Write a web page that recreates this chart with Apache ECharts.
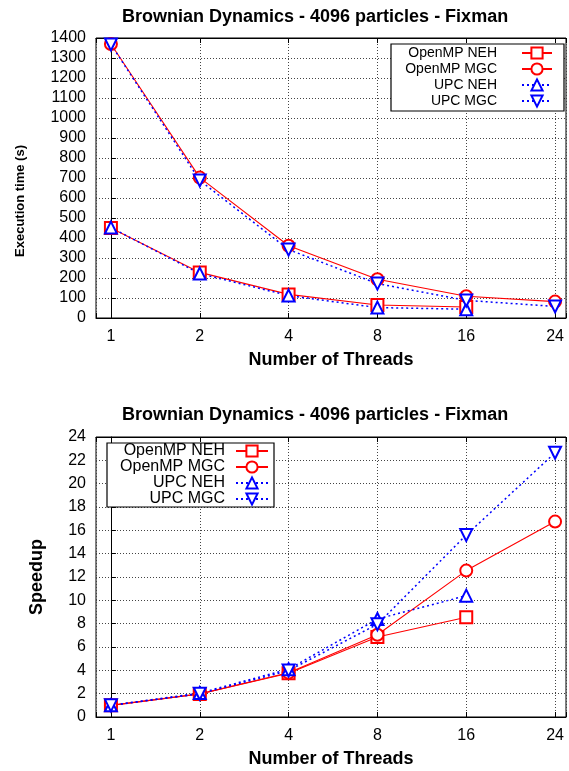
<!DOCTYPE html>
<html>
<head>
<meta charset="utf-8">
<script src="https://cdn.jsdelivr.net/npm/echarts@6/dist/echarts.min.js"></script>
<style>
  html, body { margin: 0; padding: 0; background: #fff; }
  #main { width: 569px; height: 771px; }
</style>
</head>
<body>
<div id="main"></div>
<script>
 // 基于准备好的dom，初始化echarts实例
 var chart = echarts.init(document.getElementById('main'));

 // x轴类别 (线程数)
 var threads = ['1', '2', '4', '8', '16', '24'];

 // 执行时间 (s)
 var timeOmpNeh = [450, 228, 118, 65, 55];
 var timeOmpMgc = [1370, 702, 361, 194, 109, 82];
 var timeUpcNeh = [452, 222, 112, 52, 44];
 var timeUpcMgc = [1368, 688, 342, 172, 88, 58];

 // 加速比
 var spOmpNeh = [1, 1.97, 3.75, 6.86, 8.55];
 var spOmpMgc = [1, 1.98, 3.8, 7.05, 12.55, 16.75];
 var spUpcNeh = [1, 2.05, 4.1, 8.4, 10.4];
 var spUpcMgc = [1, 1.99, 3.98, 7.95, 15.6, 22.65];

 var names = ['OpenMP NEH', 'OpenMP MGC', 'UPC NEH', 'UPC MGC'];

 function toPoints(arr) {
    return arr.map(function (v, i) { return [i, v]; });
 }

 var font = 'Liberation Sans, Arial, Helvetica, sans-serif';
 var RED = '#ff0000', BLUE = '#0000ff';

 function makeSeries(data, idx, name, color, symbol, rotate, dotted) {
    return {
        name: name,
        type: 'line',
        xAxisIndex: idx * 2,
        yAxisIndex: idx,
        data: toPoints(data),
        symbol: symbol,
        symbolSize: 12,
        symbolRotate: rotate,
        showAllSymbol: true,
        lineStyle: { color: color, width: dotted ? 1.5 : 1.1, type: dotted ? [2, 3] : 'solid' },
        itemStyle: { color: color, borderWidth: 1 },
        emphasis: { disabled: true },
        animation: false
    };
 }

 function xAxisFor(gridIndex, top) {
    return {
        type: 'value',
        gridIndex: gridIndex,
        position: top ? 'top' : 'bottom',
        min: -0.168,
        max: 5.123,
        minInterval: 1,
        maxInterval: 1,
        name: top ? '' : 'Number of Threads',
        nameLocation: 'middle',
        nameGap: 33,
        nameTextStyle: { fontFamily: font, fontSize: 18, fontWeight: 'bold', color: '#000' },
        axisLine: { show: true, lineStyle: { color: '#000', width: 1 } },
        axisTick: { show: true, inside: true, length: 5, lineStyle: { color: '#000' } },
        axisLabel: {
            show: !top,
            margin: 11,
            fontFamily: font, fontSize: 16, color: '#000',
            formatter: function (v) {
                return Math.abs(v - Math.round(v)) < 1e-6 ? (threads[Math.round(v)] || '') : '';
            }
        },
        splitLine: { show: !top, lineStyle: { color: '#444', type: [1, 2], width: 1 } }
    };
 }

 function yAxisFor(gridIndex, max, interval) {
    return {
        type: 'value',
        gridIndex: gridIndex,
        min: 0,
        max: max,
        interval: interval,
        axisLine: { show: true, lineStyle: { color: '#000', width: 1 } },
        axisTick: { show: true, inside: true, length: 5, lineStyle: { color: '#000' } },
        axisLabel: { margin: 10, fontFamily: font, fontSize: 16, color: '#000',
                     formatter: function (v) { return String(v); } },
        splitLine: { show: true, lineStyle: { color: '#444', type: [1, 2], width: 1 } }
    };
 }

 var option = {
     backgroundColor: '#fff',
     animation: false,
     title: [
         { text: 'Brownian Dynamics - 4096 particles - Fixman', left: 117, top: 3,
           textStyle: { fontFamily: font, fontSize: 18, fontWeight: 'bold', color: '#000' } },
         { text: 'Brownian Dynamics - 4096 particles - Fixman', left: 117, top: 401,
           textStyle: { fontFamily: font, fontSize: 18, fontWeight: 'bold', color: '#000' } }
     ],
     grid: [
         { left: 96, top: 38, right: 0, height: 280, show: true, borderColor: '#000', borderWidth: 1 },
         { left: 96, top: 437, right: 0, height: 280, show: true, borderColor: '#000', borderWidth: 1 }
     ],
     xAxis: [xAxisFor(0, false), xAxisFor(0, true), xAxisFor(1, false), xAxisFor(1, true)],
     yAxis: [yAxisFor(0, 1400, 100), yAxisFor(1, 24, 2)],
     legend: [
         {   // 上图图例
             data: names,
             orient: 'vertical',
             align: 'right',
             left: 391, top: 44,
             padding: [2, 11, 3, 14],
             itemWidth: 30, itemHeight: 14, itemGap: 2,
             borderColor: '#000', borderWidth: 1.2,
             backgroundColor: '#fff',
             selectedMode: false,
             textStyle: { fontFamily: font, fontSize: 14, lineHeight: 14, color: '#000',
                          width: 92, align: 'right', padding: [0, 20, 0, 0] }
         },
         {   // 下图图例
             data: names,
             orient: 'vertical',
             align: 'right',
             left: 107, top: 443,
             padding: [0, 5, 0, 12],
             itemWidth: 32, itemHeight: 14, itemGap: 0,
             borderColor: '#000', borderWidth: 1.2,
             backgroundColor: '#fff',
             selectedMode: false,
             textStyle: { fontFamily: font, fontSize: 16, lineHeight: 16, color: '#000',
                          width: 106, align: 'right', padding: [0, 6, 0, 0] }
         }
     ],
     graphic: [
         { type: 'text', x: 20, y: 201, rotation: Math.PI / 2,
           style: { text: 'Execution time (s)', fontFamily: font, fontSize: 13, fontWeight: 'bold',
                    fill: '#000', textAlign: 'center', textVerticalAlign: 'middle' } },
         { type: 'text', x: 37, y: 577, rotation: Math.PI / 2,
           style: { text: 'Speedup', fontFamily: font, fontSize: 18, fontWeight: 'bold',
                    fill: '#000', textAlign: 'center', textVerticalAlign: 'middle' } }
     ],
     series: [
         makeSeries(timeOmpNeh, 0, names[0], RED, 'emptyRect', 0, false),
         makeSeries(timeOmpMgc, 0, names[1], RED, 'emptyCircle', 0, false),
         makeSeries(timeUpcNeh, 0, names[2], BLUE, 'emptyTriangle', 0, true),
         makeSeries(timeUpcMgc, 0, names[3], BLUE, 'emptyTriangle', 180, true),
         makeSeries(spOmpNeh, 1, names[0], RED, 'emptyRect', 0, false),
         makeSeries(spOmpMgc, 1, names[1], RED, 'emptyCircle', 0, false),
         makeSeries(spUpcNeh, 1, names[2], BLUE, 'emptyTriangle', 0, true),
         makeSeries(spUpcMgc, 1, names[3], BLUE, 'emptyTriangle', 180, true)
     ]
 };

 chart.setOption(option, true);
 // echart图表自适应
 window.addEventListener("resize", function() {
     chart.resize();
 });
</script>
</body>
</html>
